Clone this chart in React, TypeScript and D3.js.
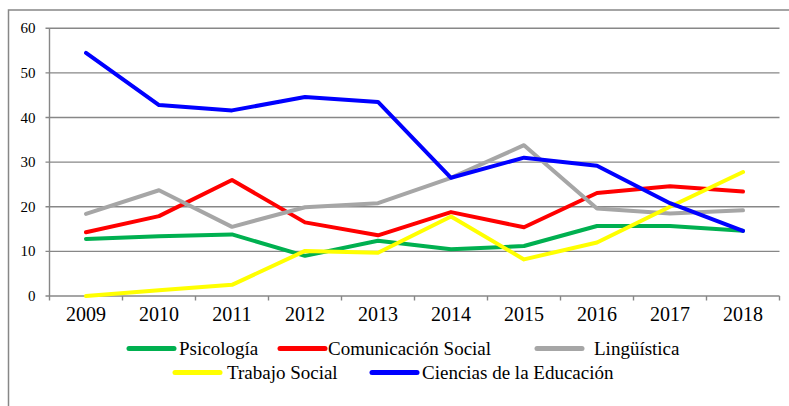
import React from "react";
import * as d3 from "d3";

const years = ["2009", "2010", "2011", "2012", "2013", "2014", "2015", "2016", "2017", "2018"];
const yTicks = [0, 10, 20, 30, 40, 50, 60];

const psicologia = [12.8, 13.4, 13.8, 9.0, 12.4, 10.5, 11.2, 15.7, 15.7, 14.6];
const comunicacion = [14.3, 17.9, 26.0, 16.5, 13.6, 18.8, 15.4, 23.1, 24.6, 23.4];
const linguistica = [18.4, 23.7, 15.5, 19.9, 20.8, 26.5, 33.8, 19.6, 18.5, 19.2];
const trabajo = [0, 1.3, 2.5, 10.1, 9.7, 17.8, 8.2, 12.0, 20.0, 27.8];
const ciencias = [54.5, 42.8, 41.6, 44.6, 43.5, 26.5, 31.0, 29.2, 20.8, 14.6];

const seriesNames = ["Psicología", "Comunicación Social", "Lingüística", "Trabajo Social", "Ciencias de la Educación"];
const seriesColors = ["#00B050", "#FF0000", "#A6A6A6", "#FFFF00", "#0000FF"];
const seriesValues = [psicologia, comunicacion, linguistica, trabajo, ciencias];

// legend layout (swatch start x, row)
const legendLayout = [
  { x: 127, row: 0, gap: 3 },
  { x: 278, row: 0, gap: 1 },
  { x: 535, row: 0, gap: 10 },
  { x: 173, row: 1, gap: 5 },
  { x: 370, row: 1, gap: 3 },
];

const W = 789;
const H = 406;
const left = 49.5;
const right = 779.5;
const top = 28.3;
const bottom = 296;
const FONT = '"Liberation Serif", "DejaVu Serif", "Times New Roman", Times, serif';
const GRID = "#878787";

export default function App() {
  const x = d3.scaleBand<string>().domain(years).range([left, right]);
  const y = d3.scaleLinear().domain([0, 60]).range([bottom, top]);
  const cx = (yr: string) => (x(yr) as number) + x.bandwidth() / 2;
  const line = d3
    .line<number>()
    .x((_, i) => cx(years[i]))
    .y((v) => y(v));
  const ts = { fontFamily: FONT };

  return (
    <div style={{ position: "absolute", left: 0, top: 0, fontFamily: FONT }}>
      <svg width={W} height={H} style={{ display: "block", background: "#fff", fontFamily: FONT }}>
        <rect x={0} y={0} width={W} height={H} fill="#fff" />
        {/* outer frame */}
        <path d={`M8.5,${H + 5} L8.5,10 L${W + 5},10`} fill="none" stroke={GRID} strokeWidth={1.5} />
        {/* gridlines and y ticks */}
        {yTicks.map((t) => (
          <g key={t}>
            <line x1={left - 4} x2={right} y1={y(t)} y2={y(t)} stroke={GRID} strokeWidth={1.4} />
            <text x={35.5} y={y(t) + 5} textAnchor="end" fontSize={15} fill="#000" style={ts}>
              {t}
            </text>
          </g>
        ))}
        {/* y axis */}
        <line x1={left} x2={left} y1={top} y2={bottom} stroke={GRID} strokeWidth={1.4} />
        {/* x ticks */}
        {years.map((yr) => (
          <line
            key={"t" + yr}
            x1={x(yr) as number}
            x2={x(yr) as number}
            y1={bottom}
            y2={bottom + 4.5}
            stroke={GRID}
            strokeWidth={1.4}
          />
        ))}
        <line x1={right} x2={right} y1={bottom} y2={bottom + 4.5} stroke={GRID} strokeWidth={1.4} />
        {years.map((yr) => (
          <text key={"l" + yr} x={cx(yr)} y={320.5} textAnchor="middle" fontSize={20} fill="#000" style={ts}>
            {yr}
          </text>
        ))}
        {/* series */}
        {seriesValues.map((vals, i) => (
          <path
            key={seriesNames[i]}
            d={line(vals) as string}
            fill="none"
            stroke={seriesColors[i]}
            strokeWidth={4}
            strokeLinejoin="round"
            strokeLinecap="round"
          />
        ))}
        {/* legend */}
        {seriesNames.map((name, i) => {
          const L = legendLayout[i];
          const ly = L.row === 0 ? 348.5 : 372.5;
          return (
            <g key={"lg" + name}>
              <line
                x1={L.x + 2}
                x2={L.x + 47}
                y1={ly}
                y2={ly}
                stroke={seriesColors[i]}
                strokeWidth={5}
                strokeLinecap="round"
              />
              <text x={L.x + 49 + L.gap} y={ly + 6} fontSize={19} fill="#000" style={ts}>
                {name}
              </text>
            </g>
          );
        })}
      </svg>
    </div>
  );
}
